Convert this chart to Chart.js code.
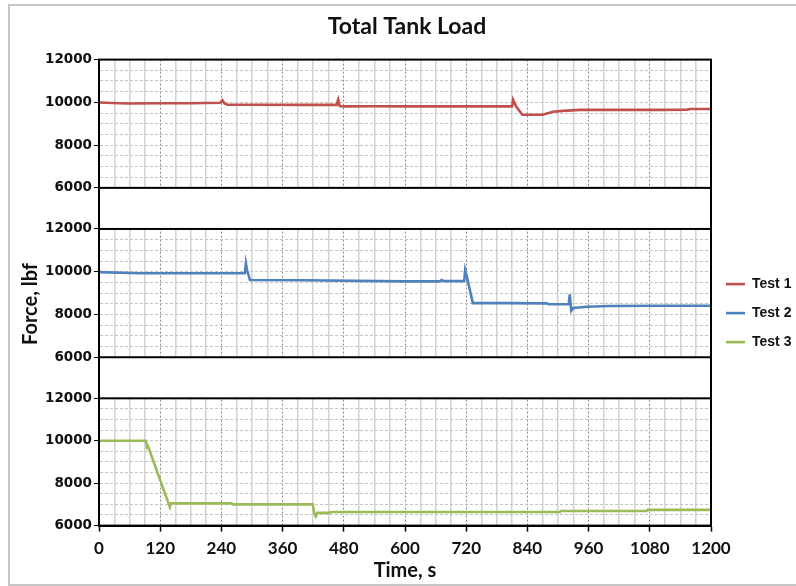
<!DOCTYPE html>
<html>
<head>
<meta charset="utf-8">
<script src="https://cdn.jsdelivr.net/npm/chart.js@4.4.1/dist/chart.umd.min.js"></script>
<style>
  body { margin: 0; background: #fff; }
  #frame { position: absolute; left: 8px; top: 4px; width: 800px; height: 578px; border: 2px solid #c6c6c6; }
  #grafica { position: absolute; left: 0; top: 0; }
</style>
</head>
<body>
<div id="frame"></div>
<canvas id="grafica" width="796" height="586"></canvas>
<script>
// tiempos (s) y fuerzas (lbf)
const t1 = [0, 40, 60, 120, 180, 238, 242, 246, 252, 300, 400, 466, 469, 472, 480, 540, 600, 700, 810, 812, 818, 830, 870, 890, 910, 943, 1000, 1100, 1153, 1160, 1200];
const f1 = [9990, 9960, 9950, 9960, 9960, 9980, 10100, 9950, 9890, 9890, 9880, 9880, 10130, 9830, 9810, 9820, 9810, 9810, 9810, 10120, 9800, 9420, 9420, 9560, 9600, 9650, 9650, 9650, 9660, 9690, 9690];

const t2 = [0, 80, 160, 286, 288, 290, 296, 400, 600, 668, 672, 676, 716, 718, 722, 733, 800, 878, 882, 921, 923, 926, 930, 956, 1002, 1100, 1200];
const f2 = [9980, 9930, 9930, 9930, 10390, 10100, 9610, 9600, 9550, 9550, 9610, 9560, 9560, 10080, 9700, 8530, 8530, 8520, 8480, 8480, 8940, 8170, 8300, 8360, 8400, 8410, 8410];

const t3 = [0, 92, 94, 96, 139, 141, 260, 262, 419, 422, 425, 428, 452, 455, 904, 906, 1074, 1076, 1200];
const f3 = [10000, 10000, 9700, 9750, 6870, 7050, 7050, 7000, 7000, 6600, 6440, 6600, 6600, 6640, 6640, 6690, 6690, 6740, 6740];

const nombres = ["Test 1", "Test 2", "Test 3"];
const colores = ["#c0504d", "#4f81bd", "#9bbb59"];
const xTicks = [0, 120, 240, 360, 480, 600, 720, 840, 960, 1080, 1200];
const yTicks = [6000, 8000, 10000, 12000];

const puntos = (t, f) => t.map((x, i) => ({ x: x, y: f[i] }));

const fuenteY = { family: "DejaVu Sans", weight: "bold", size: 13.5 };

// eje y de cada panel
function ejePanel(peso) {
  return {
    type: "linear", position: "left", stack: "paneles", stackWeight: peso,
    min: 6000, max: 12000,
    afterBuildTicks: s => { s.ticks = []; for (let v = 6000; v <= 12000; v += 500) s.ticks.push({ value: v }); },
    afterFit: s => { s.width = 81; },
    ticks: {
      autoSkip: false, padding: 2, color: "#111", font: fuenteY,
      callback: v => yTicks.includes(v) ? String(v) : ""
    },
    grid: {
      color: "#c4c4c4", lineWidth: 1, tickLength: 5,
      tickColor: c => (c.tick && yTicks.includes(c.tick.value)) ? "#000" : "rgba(0,0,0,0)"
    },
    border: { color: "#000", width: 2, dash: [3, 2] }
  };
}
// hueco entre paneles
function ejeCorte(peso) {
  return {
    type: "linear", position: "left", stack: "paneles", stackWeight: peso,
    afterFit: s => { s.width = 81; },
    ticks: { display: false }, grid: { display: false, drawTicks: false },
    border: { display: true, color: "#000", width: 2 }
  };
}

const marcos = {
  id: "marcos",
  afterDraw(chart) {
    const { ctx, chartArea: a, scales } = chart;
    ctx.save();
    ctx.lineWidth = 2;
    ctx.strokeStyle = "#000";
    ["b1", "b2"].forEach(id => {
      const s = scales[id];
      ctx.fillStyle = "#fff";
      ctx.fillRect(a.left, s.top, a.right - a.left, s.bottom - s.top);
      ctx.strokeRect(a.left, s.top, a.right - a.left, s.bottom - s.top);
    });
    ctx.strokeRect(a.left, a.top, a.right - a.left, a.bottom - a.top);
    // titulo del eje y
    ctx.translate(31, 304);
    ctx.rotate(-Math.PI / 2);
    ctx.fillStyle = "#111";
    ctx.font = "bold 20px Lato";
    ctx.textAlign = "center";
    ctx.textBaseline = "middle";
    ctx.fillText("Force, lbf", 0, 0);
    ctx.restore();
  }
};

const ctx = document.getElementById("grafica").getContext("2d");
new Chart(ctx, {
  type: "line",
  data: {
    datasets: [
      { label: nombres[0], data: puntos(t1, f1), yAxisID: "y1" },
      { label: nombres[1], data: puntos(t2, f2), yAxisID: "y2" },
      { label: nombres[2], data: puntos(t3, f3), yAxisID: "y3" }
    ].map((d, i) => Object.assign(d, {
      xAxisID: "x", borderColor: colores[i], backgroundColor: colores[i],
      borderWidth: 2.6, pointRadius: 0, tension: 0
    }))
  },
  options: {
    responsive: false,
    animation: false,
    layout: { padding: { left: 18, right: 0, top: 0, bottom: 3 } },
    plugins: {
      title: {
        display: true, text: "Total Tank Load", color: "#111",
        font: { family: "Lato", weight: "bold", size: 23 },
        padding: { top: 13, bottom: 19 }
      },
      legend: {
        position: "right", maxWidth: 85,
        title: { display: true, text: " ", font: { size: 1 }, padding: { top: 42, bottom: 0 } },
        labels: {
          usePointStyle: true, pointStyle: "line", pointStyleWidth: 19,
          padding: 15, color: "#111", font: { family: "Liberation Sans", weight: "bold", size: 14 }
        }
      },
      tooltip: { enabled: false }
    },
    scales: {
      x: {
        type: "linear", position: "bottom", min: 0, max: 1200,
        afterBuildTicks: s => { s.ticks = xTicks.map(v => ({ value: v })); },
        ticks: {
          color: "#111", padding: 7, font: { family: "Lato", weight: "bold", size: 17 },
          callback: v => String(v)
        },
        grid: { color: "#8a8a8a", lineWidth: 1, tickLength: 6, tickColor: "#000", tickWidth: 1.5 },
        border: { color: "#000", width: 2, dash: [2, 2] },
        title: {
          display: true, text: "Time, s", color: "#111",
          font: { family: "Lato", weight: "bold", size: 20 }, padding: { top: -7, bottom: 0 }
        }
      },
      xm: {
        type: "linear", position: "bottom", min: 0, max: 1200,
        afterBuildTicks: s => { s.ticks = []; for (let v = 0; v <= 1200; v += 30) s.ticks.push({ value: v }); },
        afterFit: s => { s.height = 0; },
        ticks: { display: false, padding: 0 },
        grid: {
          drawTicks: false, tickLength: 0, lineWidth: 1.5,
          color: c => (c.tick && c.tick.value % 120 === 0) ? "rgba(0,0,0,0)" : "#d2d2d2"
        },
        border: { display: false }
      },
      // el primer eje de la pila queda abajo
      y3: ejePanel(127),
      b2: ejeCorte(41),
      y2: ejePanel(128),
      b1: ejeCorte(41),
      y1: ejePanel(128)
    }
  },
  plugins: [marcos]
});
</script>
</body>
</html>
